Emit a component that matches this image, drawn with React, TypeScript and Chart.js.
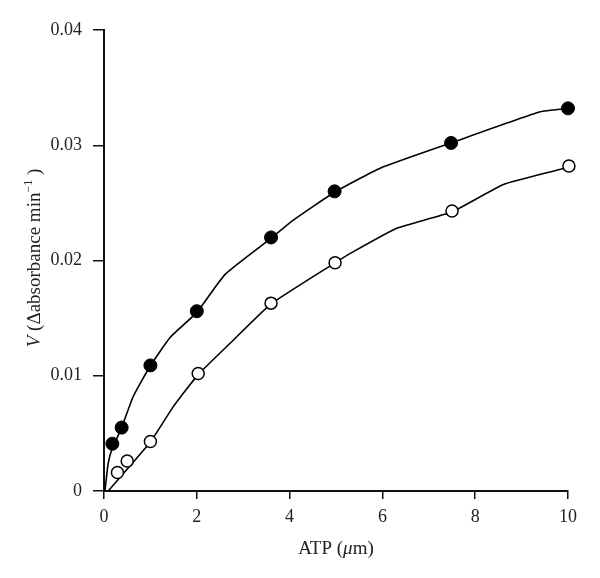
import React, { useEffect, useRef } from "react";
import { Chart, registerables } from "chart.js";

Chart.register(...registerables);

// Measured points
const filledX = [0.18, 0.38, 1.0, 2.0, 3.6, 4.97, 7.48, 10.0];
const filledY = [0.0041, 0.0055, 0.0109, 0.0156, 0.022, 0.026, 0.0302, 0.0332];
const openX = [0.29, 0.5, 1.0, 2.03, 3.6, 4.98, 7.5, 10.02];
const openY = [0.0016, 0.0026, 0.0043, 0.0102, 0.0163, 0.0198, 0.0243, 0.0282];

// Fitted curves (traced)
const filledCurveX = [0.02, 0.09, 0.17, 0.38, 0.63, 0.99, 1.42, 2.0, 2.61, 3.59, 4.08, 4.96, 5.95, 7.48, 9.4, 10.0];
const filledCurveY = [0, 0.0024, 0.0036, 0.0055, 0.0082, 0.0108, 0.0133, 0.0155, 0.0188, 0.0219, 0.0235, 0.0259, 0.028, 0.0302, 0.0329, 0.0332];
const openCurveX = [0.09, 0.99, 1.49, 2.03, 2.79, 3.59, 4.98, 5.3, 6.31, 7.49, 8.61, 10.0, 10.26];
const openCurveY = [0, 0.0042, 0.0073, 0.0101, 0.0131, 0.0162, 0.0198, 0.0206, 0.0228, 0.0242, 0.0266, 0.0281, 0.0286];

const xTickValues = [0, 2, 4, 6, 8, 10];
const yTickLabels = ["0", "0.01", "0.02", "0.03", "0.04"];

const FONT = "'Liberation Serif', 'DejaVu Serif', serif";

const zip = (xs: number[], ys: number[]) => xs.map((x, i) => ({ x, y: ys[i] }));

const titlePlugin = {
  id: "customTitles",
  afterDraw(chart: any) {
    const ctx = chart.ctx as CanvasRenderingContext2D;
    const area = chart.chartArea;
    ctx.save();
    ctx.fillStyle = "#222";
    ctx.textBaseline = "alphabetic";
    ctx.textAlign = "left";
    const size = 19;
    const normal = `${size}px ${FONT}`;
    const italic = `italic ${size}px ${FONT}`;
    const small = `${Math.round(size * 0.62)}px ${FONT}`;

    // X title
    const xParts = [
      { t: "ATP (", f: normal },
      { t: "\u03bc", f: italic },
      { t: "m)", f: normal },
    ];
    let w = 0;
    xParts.forEach((p) => {
      ctx.font = p.f;
      w += ctx.measureText(p.t).width;
    });
    let x = (area.left + area.right) / 2 - w / 2;
    xParts.forEach((p) => {
      ctx.font = p.f;
      ctx.fillText(p.t, x, 554);
      x += ctx.measureText(p.t).width;
    });

    // Y title (rotated)
    const yParts = [
      { t: "V", f: italic, dy: 0 },
      { t: " (\u0394absorbance min", f: normal, dy: 0 },
      { t: "\u22121", f: small, dy: -8 },
      { t: " )", f: normal, dy: 0 },
    ];
    let h = 0;
    yParts.forEach((p) => {
      ctx.font = p.f;
      h += ctx.measureText(p.t).width;
    });
    ctx.translate(40, 258);
    ctx.rotate(-Math.PI / 2);
    let yx = -h / 2;
    yParts.forEach((p) => {
      ctx.font = p.f;
      ctx.fillText(p.t, yx, p.dy);
      yx += ctx.measureText(p.t).width;
    });
    ctx.restore();
  },
};

export default function App() {
  const ref = useRef<HTMLCanvasElement>(null);
  useEffect(() => {
    if (!ref.current) return;
    const chart = new Chart(ref.current, {
      type: "scatter",
      data: {
        datasets: [
          {
            label: "filled",
            data: zip(filledX, filledY),
            backgroundColor: "#000",
            borderColor: "#000",
            borderWidth: 1,
            pointRadius: 6.5,
            showLine: false,
            clip: false as any,
          },
          {
            label: "open",
            data: zip(openX, openY),
            backgroundColor: "#fff",
            borderColor: "#000",
            borderWidth: 1.5,
            pointRadius: 6,
            showLine: false,
            clip: false as any,
          },
          {
            label: "filledCurve",
            data: zip(filledCurveX, filledCurveY),
            borderColor: "#000",
            borderWidth: 1.6,
            pointRadius: 0,
            showLine: true,
            tension: 0.15,
            clip: false as any,
          },
          {
            label: "openCurve",
            data: zip(openCurveX, openCurveY),
            borderColor: "#000",
            borderWidth: 1.6,
            pointRadius: 0,
            showLine: true,
            tension: 0.15,
            clip: false as any,
          },
        ],
      },
      options: {
        animation: false,
        responsive: false,
        layout: { padding: { top: 30, right: 32, left: 0, bottom: 0 } },
        plugins: { legend: { display: false }, tooltip: { enabled: false } },
        scales: {
          x: {
            type: "linear",
            min: 0,
            max: 10,
            afterFit: (s: any) => {
              s.height = 87;
            },
            afterBuildTicks: (s: any) => {
              s.ticks = xTickValues.map((v) => ({ value: v }));
            },
            ticks: {
              color: "#222",
              font: { family: FONT, size: 18 },
              padding: 7,
              maxRotation: 0,
              callback: (v: any) => String(v),
            },
            grid: {
              drawOnChartArea: false,
              drawTicks: true,
              tickLength: 8,
              color: "#111",
              lineWidth: 1.5,
            },
            border: { display: true, color: "#111", width: 2 },
          },
          y: {
            type: "linear",
            min: 0,
            max: 0.04,
            afterFit: (s: any) => {
              s.width = 104;
            },
            afterBuildTicks: (s: any) => {
              s.ticks = yTickLabels.map((_, i) => ({ value: i * 0.01 }));
            },
            ticks: {
              color: "#222",
              font: { family: FONT, size: 18 },
              padding: 11,
              callback: (_v: any, i: number) => yTickLabels[i],
            },
            grid: {
              drawOnChartArea: false,
              drawTicks: true,
              tickLength: 11,
              color: "#111",
              lineWidth: 1.5,
            },
            border: { display: true, color: "#111", width: 2 },
          },
        },
      },
      plugins: [titlePlugin],
    } as any);
    return () => chart.destroy();
  }, []);
  return (
    <div style={{ position: "absolute", left: 0, top: 0, width: 600, height: 578, background: "#fff" }}>
      <canvas ref={ref} width={600} height={578} />
    </div>
  );
}
